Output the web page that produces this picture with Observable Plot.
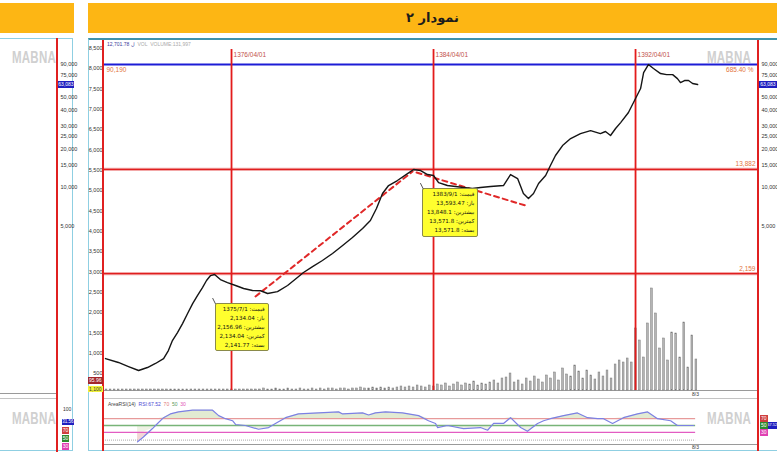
<!DOCTYPE html>
<html><head><meta charset="utf-8">
<script src="https://cdn.jsdelivr.net/npm/d3@7"></script>
<script src="https://cdn.jsdelivr.net/npm/@observablehq/plot@0.6"></script>
<style>
html,body{margin:0;padding:0;background:#fff;}
#root{position:relative;width:777px;height:454px;overflow:hidden;font-family:"DejaVu Sans",sans-serif;}
#root > *{position:absolute;}
.lbl{font-family:"Liberation Sans",Arial,sans-serif;font-size:5.5px;color:#333;white-space:nowrap;line-height:7px;}
.wm{font-family:"Liberation Sans",Arial,sans-serif;font-weight:bold;font-size:16px;color:#d0d0d0;transform-origin:0 0;transform:scaleX(0.72);letter-spacing:0.3px;line-height:16px;}
.callout{background:#ffff2e;border:1px solid #8a8a4a;border-radius:2px;direction:rtl;text-align:right;font-family:"DejaVu Sans",sans-serif;font-size:5.6px;line-height:8.9px;padding:1px 3px;color:#111;box-sizing:border-box;white-space:nowrap;}
.tag{font-family:"Liberation Sans",Arial,sans-serif;font-size:5px;color:#fff;text-align:center;line-height:7px;height:7px;overflow:hidden;}
</style></head>
<body>
<div id="root"></div>
<script>
// ---------- data ----------
const titleText = "نمودار ۲";
const priceYears = [1371.26,1371.77,1372.17,1372.57,1372.92,1373.24,1373.56,1373.75,1373.91,1374.11,1374.31,1374.51,1374.71,1374.90,1375.10,1375.26,1375.42,1375.58,1375.81,1376.09,1376.41,1376.73,1377.08,1377.40,1377.68,1378.07,1378.47,1378.86,1379.10,1379.46,1379.85,1380.25,1380.65,1381.04,1381.44,1381.75,1381.99,1382.23,1382.47,1382.82,1383.22,1383.46,1383.74,1384.01,1384.25,1384.45,1384.80,1385.12,1385.44,1385.79,1386.11,1386.51,1387.02,1387.30,1387.58,1387.81,1388.01,1388.21,1388.41,1388.69,1388.88,1389.08,1389.36,1389.68,1390.07,1390.47,1390.86,1391.06,1391.26,1391.46,1391.66,1391.97,1392.25,1392.45,1392.57,1392.76,1392.96,1393.24,1393.48,1393.72,1393.91,1394.03,1394.19,1394.35,1394.51,1394.71];
const priceValues = [474,442,411,383,404,434,474,547,653,753,885,1059,1265,1459,1683,1909,2085,2123,1941,1841,1746,1655,1596,1590,1514,1567,1746,2014,2203,2449,2729,3090,3565,4111,4831,5570,6902,9016,10400,11370,12880,13840,13590,12650,12440,10970,10400,10210,10040,9860,10040,10210,10400,12650,11780,9016,8240,9016,10790,12440,14860,17780,21230,24050,26300,27730,26300,27290,25410,28770,31990,38280,49130,58750,78160,90160,83950,76740,75340,75340,70150,65310,67760,67760,64270,63083];

const trendYears = [[1377.20,1383.42],[1383.58,1387.89]];
const trendValues = [[1435,13360],[13120,7278]];

const levelValues = [90190, 13882, 2159];
const levelLabels = ["90,190", "13,882", "2,159"];
const topPercent = "685.40 %";

const markerYears = [1376.25, 1384.25, 1392.25];
const markerLabels = ["1376/04/01", "1384/04/01", "1392/04/01"];

const rightTicks = [5000,10000,15000,20000,25000,30000,40000,50000,75000,90000];
const lastValue = 63083;
const leftTicks = [500,1000,1500,2000,2500,3000,3500,4000,4500,5000,5500,6000,6500,7000,7500,8000,8500];

const volStart = 1371.3, volStep = 0.16;
const volumes = [1,1,1,1,1,1,1,1,1,1, 1,1,1,1,1,1,1,1,1,1, 1,1,1,1,1,1,1,1,1,1, 1,1,1,1,1,1,1,1,1,2, 1,1,2,1,1,2,1,1,2,1, 1,2,1,2,1,2,2,1,2,2, 1,2,2,3,2,2,3,2,3,2, 3,2,3,4,
 3,4,3,5,4,3,5,4,
 6,5,7,4,6,8,5,7,6,9,5,7,6,8,10,7,12,
 13,17,8,10,6,12,9,14,11,8,
 15,12,18,10,22,16,14,25,19,12,20,15,11,
 18,14,20,12,26,30,28,
 32,28,62,50,33,
 67,102,77,42,52,30,58,57,33,68,23,55,31];

const rsiYears = [1372.53,1372.76,1373.12,1373.32,1373.56,1373.83,1374.15,1374.71,1375.50,1375.74,1376.01,1376.29,1376.41,1376.80,1377.32,1377.72,1377.99,1378.39,1378.90,1379.70,1380.49,1380.65,1381.44,1381.68,1381.95,1382.35,1383.02,1383.66,1384.05,1384.33,1384.41,1384.80,1385.44,1386.11,1386.39,1386.63,1387.02,1387.30,1387.70,1387.97,1388.37,1388.61,1388.88,1389.40,1389.95,1390.35,1390.75,1390.98,1391.34,1391.77,1392.33,1392.73,1393.12,1393.64,1393.91,1394.55];
const rsiValues = [2,16,41,56,73,84,90,95,95,79,70,64,53,50,39,44,56,73,84,87,90,84,87,81,87,90,87,79,64,56,44,50,41,44,36,56,56,73,44,33,56,64,70,79,87,73,70,70,56,73,84,90,70,64,50,50];
const rsiLevels = [70, 50, 30];
const rsiLevelColors = ["#e79a9a", "#78b478", "#e25cc2"];
const rsiEnd = 1394.63;

const calloutYears = [1375.5, 1383.67];
const calloutClose = [2141.77, 13571.8];
const calloutLines = [
  ["قیمت: 1375/7/1", "باز: 2,134.04", "بیشترین: 2,156.96", "کمترین: 2,134.04", "بسته: 2,141.77"],
  ["قیمت: 1383/9/1", "باز: 13,593.47", "بیشترین: 13,848.1", "کمترین: 13,571.8", "بسته: 13,571.8"]
];

// ---------- layout helpers ----------
const root = document.getElementById("root");
function box(left, top, width, height, css) {
  const d = document.createElement("div");
  d.style.left = left + "px"; d.style.top = top + "px";
  if (width != null) d.style.width = width + "px";
  if (height != null) d.style.height = height + "px";
  Object.assign(d.style, css || {});
  root.appendChild(d);
  return d;
}
function label(left, top, html, cls, css) {
  const d = box(left, top, null, null, css);
  d.className = cls || "lbl";
  d.innerHTML = html;
  return d;
}
function tag(left, top, width, height, bg, text, css) {
  const d = box(left, top, width, height, Object.assign({background: bg, lineHeight: height + "px"}, css || {}));
  d.className = "tag";
  d.textContent = text;
  return d;
}
function place(node, left, top) {
  node.style.position = "absolute";
  node.style.left = left + "px"; node.style.top = top + "px";
  root.appendChild(node);
}

// header
const ORANGE = "#fdb614";
box(0, 3, 74, 30, {background: ORANGE});
const hdr = box(88, 3, 689, 30, {background: ORANGE, textAlign: "center", lineHeight: "30px",
  fontFamily: "DejaVu Sans, sans-serif", fontWeight: "bold", fontSize: "13px", color: "#1c1c1c", direction: "rtl"});
hdr.textContent = titleText;

// panel frames
box(-2, 38, 75, 413, {border: "1px solid #8fcfe2", boxSizing: "border-box"});
box(88, 38, 700, 413, {border: "1px solid #8fcfe2", borderTop: "2px solid #3f93ab", boxSizing: "border-box"});

const X_DOMAIN = [1371.18, 1397.12];
const svgStyle = {background: "transparent", overflow: "visible", fontFamily: "Liberation Sans, Arial, sans-serif", fontSize: "5.5px", color: "#333"};

// gray separators
box(103, 390, 655, 1, {background: "#9a9a9a"});
box(103, 398, 655, 1, {background: "#c4c4c4"});
box(103, 444, 655, 1, {background: "#9a9a9a"});
box(0, 393, 57, 1, {background: "#9a9a9a"});
box(0, 398, 57, 1, {background: "#c4c4c4"});

// volume plot (below price)
const vol = volumes.map((v, i) => ({x: volStart + i * volStep, v}));
const volPlot = Plot.plot({
  width: 689, height: 360, marginLeft: 15, marginRight: 19, marginTop: 247, marginBottom: 8,
  style: svgStyle,
  x: {domain: X_DOMAIN, axis: null},
  y: {domain: [0, 105], axis: null},
  marks: [
    Plot.rectY(vol, {x1: d => d.x - 0.035, x2: d => d.x + 0.035, y1: 0, y2: "v", fill: "#b4b4b4", stroke: "#7a7a7a", strokeWidth: 0.5})
  ]
});
place(volPlot, 88, 38);

// price plot
const price = priceYears.map((x, i) => ({x, v: priceValues[i]}));
const trends = trendYears.flatMap((ys, k) => ys.map((x, j) => ({k, x, v: trendValues[k][j]})));
const levels = levelValues.map((v, i) => ({v, label: levelLabels[i]}));
const markers = markerYears.map((x, i) => ({x, label: markerLabels[i]}));
const TOP = 117800, BOTTOM = 268;
const fmt = d3.format(",");
const pricePlot = Plot.plot({
  width: 689, height: 360, marginLeft: 15, marginRight: 19, marginTop: 4, marginBottom: 8,
  style: svgStyle,
  x: {domain: X_DOMAIN, axis: null},
  y: {type: "log", domain: [BOTTOM, 133600], axis: null},
  marks: [
    Plot.ruleY(levels.slice(1), {y: "v", stroke: "#f2a8a8", strokeWidth: 3.2}),
    Plot.ruleY(levels.slice(1), {y: "v", stroke: "#e01e1e", strokeWidth: 1.1}),
    Plot.ruleY(levels.slice(0, 1), {y: "v", stroke: "#1c1cd6", strokeWidth: 2.2}),
    Plot.ruleX(markers, {x: "x", y1: TOP, y2: BOTTOM, stroke: "#e31b1b", strokeWidth: 1.8}),
    Plot.text(markers, {x: "x", y: TOP, text: "label", dx: 2, dy: 5, textAnchor: "start", fill: "#c2504a", fontSize: 6.5}),
    Plot.text(levels.slice(0, 1), {x: X_DOMAIN[0], y: "v", text: "label", dx: 3, dy: 5, textAnchor: "start", fill: "#e3743c", fontSize: 6.5}),
    Plot.text(levels.slice(0, 1), {x: X_DOMAIN[1], y: "v", text: () => topPercent, dx: -5, dy: 5, textAnchor: "end", fill: "#e3743c", fontSize: 6.5}),
    Plot.text(levels.slice(1), {x: X_DOMAIN[1], y: "v", text: "label", dx: -3, dy: -5, textAnchor: "end", fill: "#e3743c", fontSize: 6.5}),
    Plot.line(trends, {x: "x", y: "v", z: "k", stroke: "#e02828", strokeWidth: 2, strokeDasharray: "5,4"}),
    Plot.line(price, {x: "x", y: "v", stroke: "#151515", strokeWidth: 1.4}),
    Plot.text(rightTicks, {x: X_DOMAIN[1], y: d => d, text: d => fmt(d), dx: 3, textAnchor: "start", fill: "#333"})
  ]
});
place(pricePlot, 88, 38);

// left linear axis overlay
const leftAxisPlot = Plot.plot({
  width: 689, height: 360, marginLeft: 15, marginRight: 19, marginTop: 4, marginBottom: 8,
  style: svgStyle,
  x: {domain: X_DOMAIN, axis: null},
  y: {domain: [81, 8638], label: null},
  marks: [Plot.axisY(leftTicks, {anchor: "left", tickSize: 0, tickPadding: 1, tickFormat: fmt, label: null})]
});
place(leftAxisPlot, 88, 38);

// left partial panel axis (same log scale)
const leftPanelPlot = Plot.plot({
  width: 74, height: 360, marginLeft: 57, marginRight: 17, marginTop: 4, marginBottom: 8,
  style: svgStyle,
  x: {domain: [0, 1], axis: null},
  y: {type: "log", domain: [BOTTOM, 133600], axis: null},
  marks: [Plot.text(rightTicks, {x: 1, y: d => d, text: d => fmt(d), dx: 3, textAnchor: "start", fill: "#333"})]
});
place(leftPanelPlot, 0, 38);

// RSI plot
const rsi = rsiYears.map((x, i) => ({x, r: rsiValues[i]}));
const rsiPlot = Plot.plot({
  width: 689, height: 48, marginLeft: 15, marginRight: 19, marginTop: 10, marginBottom: 4,
  style: svgStyle,
  x: {domain: X_DOMAIN, axis: null},
  y: {domain: [0, 100], axis: null},
  marks: [
    Plot.areaY(rsi, {x: "x", y1: 70, y2: d => Math.max(70, d.r), fill: "#e2ebd2"}),
    Plot.areaY(rsi, {x: "x", y1: 50, y2: d => Math.min(50, Math.max(30, d.r)), fill: "#eef2e4"}),
    Plot.areaY(rsi, {x: "x", y1: 30, y2: d => Math.min(30, d.r), fill: "#f3d6d6"}),
    Plot.ruleY([7], {x1: X_DOMAIN[0], x2: rsiEnd, stroke: "#aaa", strokeDasharray: "1,1"}),
    Plot.ruleY(rsiLevels, {y: d => d, x1: X_DOMAIN[0], x2: rsiEnd, stroke: (d, i) => rsiLevelColors[i], strokeWidth: 1.3}),
    Plot.line(rsi, {x: "x", y: "r", stroke: "#7c80e4", strokeWidth: 1.2})
  ]
});
place(rsiPlot, 88, 398);

// red frame lines
box(56, 38, 1.5, 414, {background: "#e02020"});
box(102.2, 40, 1.6, 411, {background: "#e02020"});
box(757.2, 40, 1.6, 411, {background: "#e02020"});

// callouts, anchored through the price scales
const xs = pricePlot.scale("x"), ysc = pricePlot.scale("y");
const calloutOffsets = [[2.5, 29.5, 54, 48], [4, 18, 56, 49]];
const ptr = d3.create("svg").attr("width", 777).attr("height", 454).style("position", "absolute").style("left", "0px").style("top", "0px");
calloutYears.forEach((yr, i) => {
  const ax = 88 + xs.apply(yr), ay = 38 + ysc.apply(calloutClose[i]);
  const [dx, dy, w, h] = calloutOffsets[i];
  const b = box(ax + dx, ay + dy, w, h);
  b.className = "callout";
  b.innerHTML = calloutLines[i].map(s => `<div>${s}</div>`).join("");
  ptr.append("line").attr("x1", ax + dx + 1).attr("y1", ay + dy + 1).attr("x2", ax + dx - 2).attr("y2", ay + dy - 5).attr("stroke", "#555").attr("stroke-width", 1);
});
root.appendChild(ptr.node());

// texts and tags
label(107, 41, '<span style="color:#3a3a9a">12,701.78 ل</span>&nbsp;&nbsp;<span style="color:#aaa">VOL&nbsp;&nbsp;VOLUME:131,997</span>', "lbl", {fontSize: "5px"});
const tagY = 38 + ysc.apply(lastValue) - 3.5;
tag(759, tagY, 18, 7, "#1f1fc0", "63,083");
tag(58, tagY, 16, 7, "#1f1fc0", "63,083");
tag(88, 377, 14.5, 7, "#a3262a", "95.96");
tag(88, 386, 14.5, 6, "#f2f23a", "1,100", {color: "#333"});
label(692, 391, "8/3", "lbl", {fontSize: "5px"});
label(692, 444, "8/3", "lbl", {fontSize: "5px"});

label(108, 401, '<span style="color:#444">AreaRSI(14)</span>&nbsp;&nbsp;<span style="color:#4a4ad4">RSI:67.52</span>&nbsp;&nbsp;<span style="color:#e07878">70</span>&nbsp;&nbsp;<span style="color:#5a9a5a">50</span>&nbsp;&nbsp;<span style="color:#e050b4">30</span>', "lbl", {fontSize: "5px"});

// RSI side tags
[["70", "#cf3f3f", 415, 427], ["50", "#2f8a2f", 422, 435], ["30", "#e040b2", 429, 443]].forEach(([t, c, y, y2]) => {
  tag(760, y, 7.5, 7, c, t);
  tag(62, y2, 7, 7, c, t);
});
tag(767.5, 422, 9.5, 7, "#1f1fc0", "67.52", {fontSize: "3.8px"});
tag(62, 419, 12, 6, "#1f1fc0", "31.56", {fontSize: "4.5px"});
label(63, 406, "100", "lbl", {fontSize: "5px"});

// watermarks
[[12, 50], [707, 50], [12, 411], [707, 411]].forEach(([x, y]) => {
  const d = box(x, y, null, null); d.className = "wm"; d.textContent = "MABNA";
});
</script>
</body></html>
